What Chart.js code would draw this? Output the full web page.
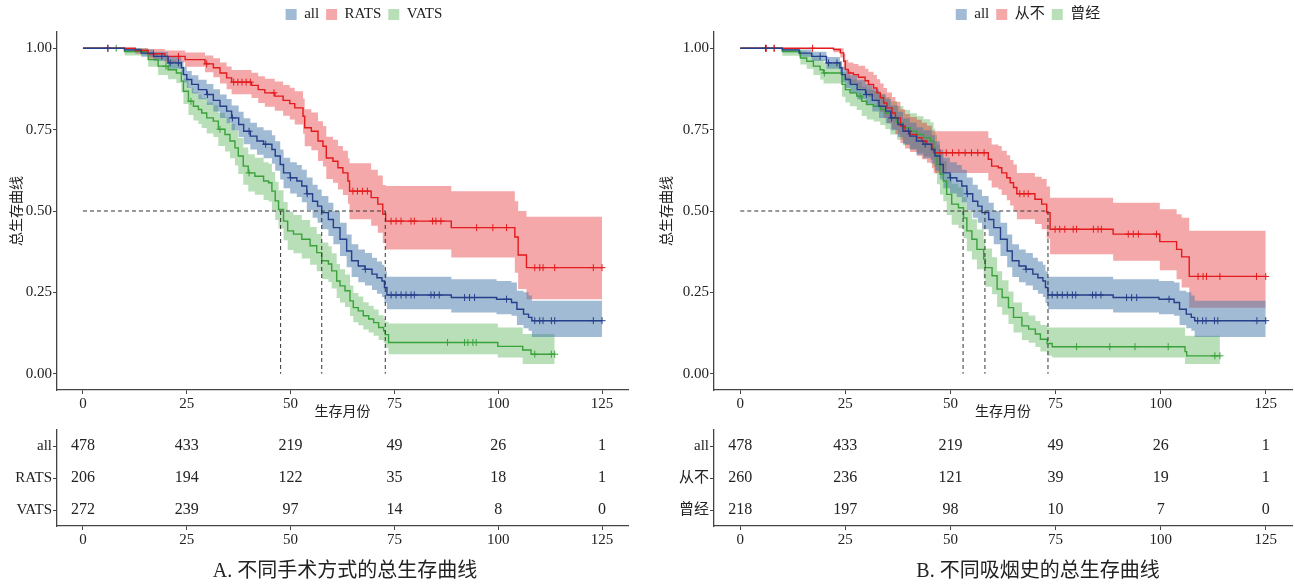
<!DOCTYPE html>
<html lang="zh">
<head>
<meta charset="UTF-8">
<title>总生存曲线</title>
<script src="https://cdn.jsdelivr.net/npm/chart.js"></script>
<style>
    html, body {
        margin: 0;
        padding: 0;
        background: #fff;
        overflow: hidden;
    }
    body {
        position: relative;
        width: 1295px;
        height: 586px;
    }
    canvas {
        position: absolute;
    }
    #plotA { left: 0; top: 0; width: 728px; height: 422px; }
    #tableA { left: 0; top: 420px; width: 690px; height: 166px; }
    #plotB { left: 650px; top: 0; width: 756px; height: 422px; }
    #tableB { left: 650px; top: 420px; width: 776px; height: 166px; }
</style>
</head>
<body>
<canvas id="plotA" width="728" height="422"></canvas>
<canvas id="tableA" width="690" height="166"></canvas>
<canvas id="plotB" width="756" height="422"></canvas>
<canvas id="tableB" width="776" height="166"></canvas>

<script>
// axis ticks
const months = [0, 25, 50, 75, 100, 125];
const survTicks = [0, 0.25, 0.5, 0.75, 1];

// "all" curve (same cohort in both panels)
const allT  = [0, 10, 14, 17, 20.5, 23.7, 24.2, 25, 26.2, 27.8, 29.8, 31.4, 33, 34.6, 35.8, 37.5, 38.7, 40.3, 41.9, 43.5, 45.5, 46.3, 47.5, 48.3, 49.9, 51.5, 52.7, 53.9, 55.3, 56.5, 57.5, 59.1, 60.3, 61.9, 63.5, 64.7, 66.3, 67.9, 69.6, 70.8, 72, 72.6, 73.2, 88.7, 99.6, 103.2, 104.5, 106.1, 107.3, 108.1, 125];
const allS  = [1, 0.995, 0.985, 0.975, 0.955, 0.94, 0.919, 0.904, 0.889, 0.873, 0.858, 0.84, 0.822, 0.807, 0.786, 0.766, 0.745, 0.73, 0.715, 0.705, 0.689, 0.669, 0.643, 0.617, 0.602, 0.592, 0.577, 0.553, 0.53, 0.515, 0.495, 0.474, 0.449, 0.413, 0.377, 0.347, 0.331, 0.321, 0.306, 0.295, 0.285, 0.265, 0.242, 0.234, 0.229, 0.219, 0.198, 0.183, 0.173, 0.163, 0.163];
const allLo = [1, 0.988, 0.974, 0.961, 0.937, 0.919, 0.895, 0.878, 0.861, 0.843, 0.826, 0.806, 0.786, 0.770, 0.748, 0.727, 0.705, 0.689, 0.673, 0.662, 0.645, 0.624, 0.597, 0.570, 0.554, 0.543, 0.527, 0.503, 0.479, 0.464, 0.444, 0.423, 0.398, 0.362, 0.327, 0.297, 0.281, 0.271, 0.257, 0.246, 0.236, 0.217, 0.198, 0.188, 0.183, 0.178, 0.150, 0.140, 0.132, 0.113, 0.113];
const allHi = [1, 1, 0.996, 0.989, 0.973, 0.961, 0.943, 0.930, 0.917, 0.903, 0.890, 0.874, 0.858, 0.844, 0.824, 0.805, 0.785, 0.771, 0.757, 0.748, 0.733, 0.714, 0.689, 0.664, 0.650, 0.641, 0.627, 0.603, 0.581, 0.566, 0.546, 0.525, 0.500, 0.464, 0.428, 0.398, 0.382, 0.371, 0.356, 0.345, 0.335, 0.315, 0.298, 0.290, 0.285, 0.280, 0.255, 0.250, 0.240, 0.224, 0.224];
const allCens = [6, 19, 21, 23, 30, 36, 40, 44, 50, 54, 68, 74.2, 75.4, 76.6, 77.8, 79, 79.8, 83.8, 84.6, 85.8, 91.9, 93.1, 94.3, 102, 108.8, 110, 110.8, 112.8, 113.6, 122.9, 125];

// panel A: RATS
const ratsT  = [0, 12.6, 15.7, 19.7, 24.6, 29.4, 31.4, 33, 34.6, 35.8, 40.6, 42.2, 43.8, 46.2, 48.2, 49.8, 51, 53, 53.4, 55, 56.6, 57.8, 58.6, 60.2, 61.4, 62.6, 63.8, 64.2, 69.4, 71, 72.2, 72.9, 88.7, 104, 104.8, 106.8, 125];
const ratsS  = [1, 0.993, 0.983, 0.975, 0.965, 0.952, 0.94, 0.924, 0.909, 0.896, 0.886, 0.873, 0.863, 0.853, 0.84, 0.83, 0.817, 0.791, 0.756, 0.745, 0.715, 0.699, 0.663, 0.653, 0.633, 0.617, 0.592, 0.561, 0.541, 0.521, 0.491, 0.469, 0.449, 0.42, 0.365, 0.326, 0.326];
const ratsLo = [1, 0.983, 0.968, 0.957, 0.943, 0.926, 0.911, 0.892, 0.874, 0.859, 0.847, 0.832, 0.820, 0.808, 0.793, 0.781, 0.766, 0.737, 0.699, 0.687, 0.654, 0.637, 0.598, 0.587, 0.566, 0.549, 0.522, 0.475, 0.455, 0.433, 0.402, 0.382, 0.357, 0.31, 0.26, 0.229, 0.229];
const ratsHi = [1, 1, 0.998, 0.993, 0.987, 0.978, 0.969, 0.956, 0.944, 0.933, 0.925, 0.914, 0.906, 0.898, 0.887, 0.879, 0.868, 0.845, 0.813, 0.803, 0.776, 0.761, 0.728, 0.719, 0.700, 0.685, 0.662, 0.647, 0.627, 0.609, 0.58, 0.577, 0.561, 0.53, 0.5, 0.482, 0.482];
const ratsCens = [6, 17, 23, 29.8, 36.3, 37.3, 38.3, 39.3, 40.3, 46, 65, 66.1, 67.3, 68.5, 74.2, 75.4, 76.6, 79, 79.8, 84.2, 85, 86.2, 94.8, 98.7, 102, 108.8, 110, 110.8, 113.6, 122.9, 125];

// panel A: VATS
const vatsT  = [0, 10, 15.7, 18.1, 20.5, 22.5, 23.7, 24.2, 25.4, 26.6, 27.8, 28.6, 29.8, 31.4, 32.6, 34.2, 35.4, 36.6, 37.4, 38.6, 39.8, 41.4, 43.5, 44.7, 45.5, 46.3, 47.1, 48.3, 49.3, 50.7, 52.7, 54.7, 56.3, 57.5, 59.1, 59.9, 61.1, 61.9, 63.1, 64.3, 65.1, 66.3, 67.5, 68.8, 70, 71.2, 72.4, 72.8, 73.6, 99.9, 105.9, 107.9, 113.6];
const vatsS  = [1, 0.99, 0.965, 0.945, 0.934, 0.924, 0.899, 0.868, 0.837, 0.822, 0.812, 0.801, 0.786, 0.776, 0.751, 0.735, 0.715, 0.694, 0.669, 0.638, 0.617, 0.607, 0.592, 0.587, 0.561, 0.531, 0.505, 0.469, 0.439, 0.429, 0.413, 0.393, 0.372, 0.347, 0.337, 0.316, 0.285, 0.27, 0.255, 0.224, 0.203, 0.193, 0.178, 0.168, 0.157, 0.142, 0.132, 0.12, 0.096, 0.084, 0.073, 0.06, 0.06];
const vatsLo = [1, 0.978, 0.943, 0.918, 0.905, 0.893, 0.864, 0.829, 0.795, 0.778, 0.767, 0.755, 0.738, 0.727, 0.700, 0.683, 0.662, 0.640, 0.614, 0.581, 0.560, 0.550, 0.534, 0.529, 0.502, 0.472, 0.446, 0.410, 0.380, 0.370, 0.354, 0.335, 0.315, 0.291, 0.282, 0.262, 0.233, 0.219, 0.205, 0.177, 0.158, 0.149, 0.136, 0.127, 0.117, 0.104, 0.095, 0.08, 0.06, 0.05, 0.03, 0.03, 0.03];
const vatsHi = [1, 1, 0.987, 0.972, 0.963, 0.955, 0.934, 0.907, 0.879, 0.866, 0.857, 0.847, 0.834, 0.825, 0.802, 0.787, 0.768, 0.748, 0.724, 0.695, 0.674, 0.664, 0.650, 0.645, 0.620, 0.590, 0.564, 0.528, 0.498, 0.488, 0.472, 0.451, 0.429, 0.403, 0.392, 0.370, 0.337, 0.321, 0.305, 0.271, 0.248, 0.237, 0.220, 0.209, 0.197, 0.180, 0.169, 0.16, 0.154, 0.142, 0.122, 0.122, 0.122];
const vatsCens = [8, 20, 26, 33, 40, 87.8, 91.9, 92.7, 93.9, 94.7, 108.8, 112.8, 113.6];

// panel B: 从不
const neverT  = [0, 22.2, 23.8, 24.6, 25, 25.7, 26.9, 28.1, 29.7, 30.5, 31.7, 32.5, 33.3, 34.1, 34.9, 36.1, 36.9, 38.1, 39.2, 40.4, 42, 43.2, 44.4, 45.6, 46, 59, 59.8, 61.4, 62.2, 63.4, 64.2, 65, 65.8, 70.1, 71.7, 72.9, 73.7, 88.7, 99.8, 103.8, 105, 106.8, 125];
const neverS  = [1, 0.996, 0.986, 0.96, 0.935, 0.924, 0.919, 0.911, 0.9, 0.889, 0.878, 0.863, 0.848, 0.832, 0.817, 0.801, 0.786, 0.761, 0.745, 0.735, 0.725, 0.715, 0.705, 0.689, 0.679, 0.659, 0.638, 0.633, 0.617, 0.602, 0.587, 0.572, 0.553, 0.536, 0.521, 0.495, 0.444, 0.429, 0.406, 0.382, 0.359, 0.299, 0.299];
const neverLo = [1, 0.988, 0.972, 0.937, 0.905, 0.892, 0.886, 0.876, 0.863, 0.850, 0.838, 0.821, 0.804, 0.786, 0.770, 0.752, 0.736, 0.709, 0.692, 0.681, 0.670, 0.659, 0.648, 0.631, 0.617, 0.594, 0.572, 0.566, 0.549, 0.533, 0.517, 0.501, 0.475, 0.460, 0.444, 0.415, 0.367, 0.347, 0.318, 0.290, 0.265, 0.203, 0.203];
const neverHi = [1, 1, 1, 0.983, 0.965, 0.956, 0.952, 0.946, 0.937, 0.928, 0.918, 0.905, 0.892, 0.878, 0.864, 0.850, 0.836, 0.813, 0.798, 0.789, 0.780, 0.771, 0.762, 0.747, 0.745, 0.724, 0.704, 0.700, 0.685, 0.671, 0.657, 0.643, 0.617, 0.605, 0.598, 0.575, 0.541, 0.525, 0.505, 0.490, 0.479, 0.439, 0.439];
const neverCens = [6.2, 8.1, 17.2, 47.5, 49, 50.5, 52, 53.5, 55, 56.5, 58, 66.5, 67.5, 68.5, 74.9, 76, 77.2, 79.2, 80, 84, 85.1, 85.9, 92.3, 93.5, 94.7, 99, 108.9, 110.1, 110.9, 114.1, 122.8, 125];

// panel B: 曾经
const everT  = [0, 10, 14.3, 15.8, 17.4, 19, 19.8, 24.2, 25, 26.1, 27.7, 28.9, 30.1, 31.7, 33.3, 34.5, 35.7, 37.3, 38.8, 40.4, 42, 43.6, 45.2, 46, 46.4, 46.8, 47.5, 48.3, 49.1, 50.3, 51.9, 53.1, 53.9, 55.1, 56.3, 57.9, 58.3, 59.9, 61.1, 62.3, 63.8, 65, 67, 68.6, 70.2, 71.4, 73, 74.2, 105.8, 106.2, 114.1];
const everS  = [1, 0.99, 0.97, 0.96, 0.945, 0.934, 0.924, 0.889, 0.873, 0.863, 0.853, 0.837, 0.827, 0.822, 0.812, 0.801, 0.786, 0.771, 0.756, 0.745, 0.735, 0.725, 0.715, 0.694, 0.674, 0.643, 0.613, 0.592, 0.551, 0.521, 0.51, 0.479, 0.439, 0.413, 0.382, 0.352, 0.326, 0.301, 0.26, 0.234, 0.203, 0.173, 0.147, 0.137, 0.122, 0.106, 0.093, 0.083, 0.068, 0.055, 0.055];
const everLo = [1, 0.977, 0.95, 0.937, 0.918, 0.904, 0.892, 0.851, 0.833, 0.822, 0.810, 0.792, 0.781, 0.775, 0.764, 0.752, 0.735, 0.719, 0.702, 0.690, 0.679, 0.668, 0.657, 0.635, 0.614, 0.582, 0.551, 0.530, 0.488, 0.458, 0.447, 0.416, 0.376, 0.351, 0.321, 0.292, 0.267, 0.244, 0.205, 0.181, 0.153, 0.127, 0.104, 0.095, 0.082, 0.068, 0.055, 0.05, 0.03, 0.03, 0.03];
const everHi = [1, 1, 0.99, 0.983, 0.972, 0.964, 0.956, 0.927, 0.913, 0.904, 0.896, 0.882, 0.873, 0.869, 0.860, 0.850, 0.837, 0.823, 0.810, 0.800, 0.791, 0.782, 0.773, 0.753, 0.734, 0.704, 0.675, 0.654, 0.614, 0.584, 0.573, 0.542, 0.502, 0.475, 0.443, 0.412, 0.385, 0.358, 0.315, 0.287, 0.253, 0.219, 0.190, 0.179, 0.162, 0.150, 0.142, 0.142, 0.117, 0.117, 0.117];
const everCens = [8, 20, 28.5, 37, 80, 87.9, 93.9, 101.8, 112.9, 114.1];

// median survival times (dashed guides)
const mediansA = [47.6, 57.5, 72.8];
const mediansB = [53.0, 58.2, 73.2];

// numbers at risk
const rowsA = ['all', 'RATS', 'VATS'];
const rowsB = ['all', '从不', '曾经'];
const riskAll   = [478, 433, 219, 49, 26, 1];
const riskRats  = [206, 194, 122, 35, 18, 1];
const riskVats  = [272, 239, 97, 14, 8, 0];
const riskNever = [260, 236, 121, 39, 19, 1];
const riskEver  = [218, 197, 98, 10, 7, 0];

const RED = '#E41A1C', RED_BAND = 'rgba(228,26,28,0.38)';
const BLUE = '#263F8A', BLUE_BAND = 'rgba(70,120,170,0.5)';
const GREEN = '#3AA23A', GREEN_BAND = 'rgba(77,175,74,0.4)';
const axisColor = '#444';

Chart.defaults.font.family = "'Liberation Serif', 'Noto Sans CJK SC', serif";
Chart.defaults.color = '#222';
Chart.defaults.animation = false;

function pts(t, v) {
    return t.map((x, i) => ({ x: x, y: v[i] }));
}

// survival value at time c (for censor marks)
function survAt(c, t, s) {
    let v = s[0];
    for (let i = 0; i < t.length; i++) {
        if (t[i] <= c) v = s[i];
    }
    return v;
}

function xScale(height, withTitle) {
    return {
        type: 'linear',
        min: -6.25,
        max: 131.25,
        afterBuildTicks: s => { s.ticks = months.map(v => ({ value: v })); },
        afterFit: s => { s.height = height; },
        grid: { drawOnChartArea: false, tickLength: 4, color: axisColor },
        border: { color: axisColor, width: 1.3 },
        ticks: { padding: 1, maxRotation: 0, font: { size: 15 } },
        title: { display: withTitle, text: '生存月份', font: { size: 14 }, padding: { top: 0, bottom: 1 } }
    };
}

// empty right-hand axis, only used to reserve room so legend / caption centre like the original
function padAxis(w) {
    return {
        type: 'linear',
        position: 'right',
        grid: { display: false },
        border: { display: false },
        ticks: { display: false },
        afterFit: s => { s.width = w; }
    };
}

function plotChart(id, yWidth, padWidth, groups, medians) {
    const datasets = [];
    groups.forEach(g => {
        datasets.push({ data: pts(g.t, g.lo), borderColor: 'transparent', borderWidth: 0, pointRadius: 0, stepped: true, fill: false, order: 3 });
        datasets.push({ data: pts(g.t, g.hi), borderColor: 'transparent', borderWidth: 0, pointRadius: 0, stepped: true, fill: '-1', backgroundColor: g.band, order: 3 });
        datasets.push({ label: g.name, key: true, data: pts(g.t, g.s), borderColor: g.line, backgroundColor: g.band, borderWidth: 1.4, pointRadius: 0, stepped: true, fill: false, order: 1 });
        datasets.push({
            data: g.cens.map(c => ({ x: c, y: survAt(c, g.t, g.s) })),
            showLine: false, pointStyle: 'cross', pointRadius: 3.5, borderColor: g.line, borderWidth: 1, order: 1
        });
    });
    const dash = { borderColor: '#333', borderWidth: 1, borderDash: [4, 3], pointRadius: 0, fill: false, order: 0 };
    datasets.push(Object.assign({ data: [{ x: 0, y: 0.5 }, { x: Math.max(...medians), y: 0.5 }] }, dash));
    medians.forEach(m => datasets.push(Object.assign({ data: [{ x: m, y: 0.5 }, { x: m, y: 0 }] }, dash)));

    new Chart(document.getElementById(id), {
        type: 'line',
        data: { datasets: datasets },
        options: {
            responsive: false,
            devicePixelRatio: 1,
            layout: { padding: 0 },
            scales: {
                x: xScale(32, true),
                y: {
                    type: 'linear',
                    min: -0.05,
                    max: 1.05,
                    afterBuildTicks: s => { s.ticks = survTicks.map(v => ({ value: v })); },
                    afterFit: s => { s.width = yWidth; },
                    grid: { drawOnChartArea: false, tickLength: 4, color: axisColor },
                    border: { color: axisColor, width: 1.3 },
                    ticks: { padding: 1, font: { size: 15 }, callback: v => v.toFixed(2) },
                    title: { display: true, text: '总生存曲线', font: { size: 14 }, padding: { top: 9, bottom: 0 } }
                },
                pad: padAxis(padWidth)
            },
            plugins: {
                tooltip: { enabled: false },
                legend: {
                    position: 'top',
                    labels: {
                        boxWidth: 11,
                        boxHeight: 11,
                        padding: 7,
                        font: { size: 15 },
                        generateLabels: chart => chart.data.datasets
                            .map((d, i) => ({ d: d, i: i }))
                            .filter(o => o.d.key)
                            .map(o => ({
                                text: o.d.label,
                                fillStyle: o.d.backgroundColor,
                                strokeStyle: o.d.borderColor,
                                lineWidth: 0,
                                hidden: false,
                                datasetIndex: o.i,
                                fontColor: '#222'
                            }))
                    }
                }
            }
        }
    });
}

const countLabels = {
    id: 'countLabels',
    afterDatasetsDraw(chart) {
        const ctx = chart.ctx;
        ctx.save();
        ctx.font = "16px 'Liberation Serif', serif";
        ctx.fillStyle = '#222';
        ctx.textAlign = 'center';
        ctx.textBaseline = 'middle';
        chart.data.datasets.forEach((ds, i) => {
            chart.getDatasetMeta(i).data.forEach((p, j) => ctx.fillText(String(ds.counts[j]), p.x, p.y));
        });
        ctx.restore();
    }
};

function tableChart(id, yWidth, padWidth, rows, counts, caption) {
    const datasets = counts.map((c, r) => ({
        data: months.map(m => ({ x: m, y: rows[r] })),
        counts: c,
        showLine: false,
        pointRadius: 0
    }));
    new Chart(document.getElementById(id), {
        type: 'line',
        data: { datasets: datasets },
        plugins: [countLabels],
        options: {
            responsive: false,
            devicePixelRatio: 1,
            layout: { padding: { top: 8 } },
            scales: {
                x: xScale(28, false),
                y: {
                    type: 'category',
                    labels: rows,
                    offset: true,
                    afterFit: s => { s.width = yWidth; },
                    grid: { drawOnChartArea: false, tickLength: 4, color: axisColor },
                    border: { color: axisColor, width: 1.3 },
                    ticks: { padding: 1, font: { size: 15 } }
                },
                pad: padAxis(padWidth)
            },
            plugins: {
                legend: { display: false },
                tooltip: { enabled: false },
                title: {
                    display: true,
                    position: 'bottom',
                    text: caption,
                    color: '#222',
                    font: { size: 20, weight: 'normal' },
                    padding: { top: 6, bottom: 2 }
                }
            }
        }
    });
}

plotChart('plotA', 57, 100, [
    { name: 'all', t: allT, s: allS, lo: allLo, hi: allHi, cens: allCens, line: BLUE, band: BLUE_BAND },
    { name: 'RATS', t: ratsT, s: ratsS, lo: ratsLo, hi: ratsHi, cens: ratsCens, line: RED, band: RED_BAND },
    { name: 'VATS', t: vatsT, s: vatsS, lo: vatsLo, hi: vatsHi, cens: vatsCens, line: GREEN, band: GREEN_BAND }
], mediansA);

plotChart('plotB', 64, 114, [
    { name: 'all', t: allT, s: allS, lo: allLo, hi: allHi, cens: allCens, line: BLUE, band: BLUE_BAND },
    { name: '从不', t: neverT, s: neverS, lo: neverLo, hi: neverHi, cens: neverCens, line: RED, band: RED_BAND },
    { name: '曾经', t: everT, s: everS, lo: everLo, hi: everHi, cens: everCens, line: GREEN, band: GREEN_BAND }
], mediansB);

tableChart('tableA', 57, 62, rowsA, [riskAll, riskRats, riskVats], 'A. 不同手术方式的总生存曲线');
tableChart('tableB', 64, 134, rowsB, [riskAll, riskNever, riskEver], 'B. 不同吸烟史的总生存曲线');
</script>
</body>
</html>
